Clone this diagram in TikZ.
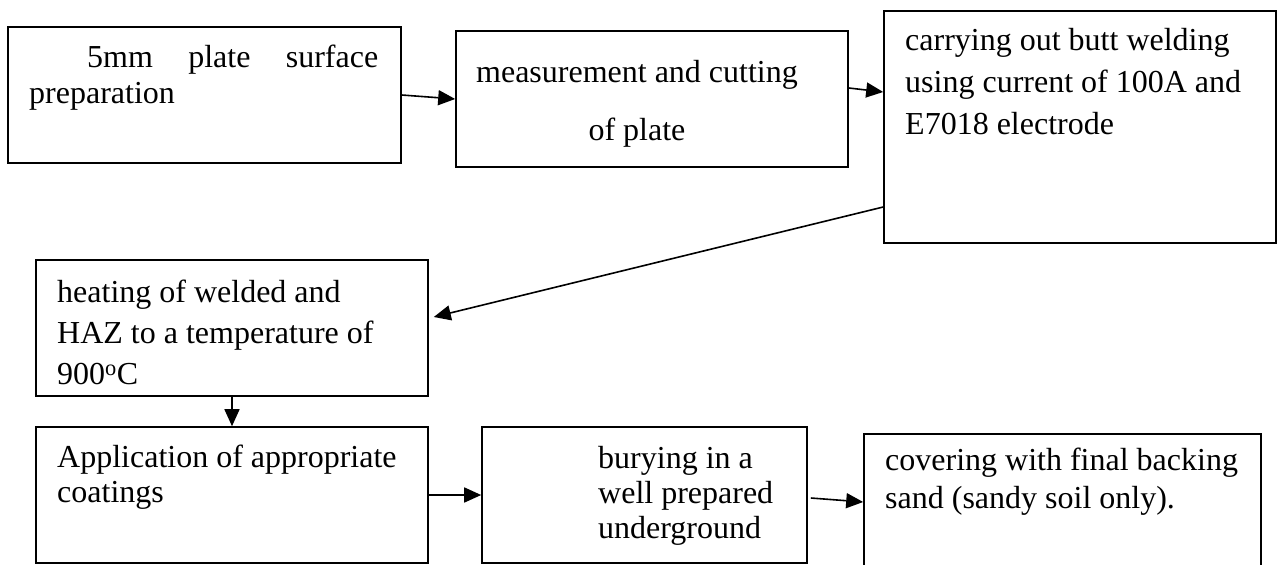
\documentclass[tikz,border=0pt]{standalone}
\usepackage{fontspec}
\setmainfont{Liberation Serif}
\usetikzlibrary{arrows.meta}
\tikzset{
	stage/.style={draw, line width=1.6pt, inner sep=0pt},
	stagetext/.style={inner sep=0pt, anchor=north west, align=left},
	flow/.style={line width=1.6pt, -{Triangle[length=17pt,width=15pt]}}
}

\begin{document}
\begin{tikzpicture}[x=1pt,y=-1pt]
		\useasboundingbox (0,0) rectangle (1278,565);
		\clip (0,0) rectangle (1278,565);
		%%  Boxes  %%%%%%%%
		\node[stage, minimum width=393pt, minimum height=136pt] (prep) at (204.5,95) {};
		\node[stage, minimum width=392pt, minimum height=136pt] (cut) at (652,99) {};
		\node[stage, minimum width=392pt, minimum height=232pt] (weld) at (1080,127) {};
		\node[stage, minimum width=392pt, minimum height=136pt] (heat) at (232,328) {};
		\node[stage, minimum width=392pt, minimum height=136pt] (coat) at (232,495) {};
		\node[stage, minimum width=325pt, minimum height=136pt] (bury) at (644.5,495) {};
		\node[stage, minimum width=397pt, minimum height=137pt] (cover) at (1062.5,502.5) {};
		%%  Texts  %%%%%%%%
		\node[stagetext, text width=349pt, font=\fontsize{32}{36}\selectfont] (prep-t) at (29,45)
			{\hspace*{58pt}5mm\hfill plate\hfill surface\\preparation};
		\node[inner sep=0pt, anchor=north, align=center, font=\fontsize{32}{58}\selectfont] (cut-t) at (637,60)
			{measurement and cutting\\of plate};
		\node[stagetext, font=\fontsize{32}{42}\selectfont] (weld-t) at (905,28)
			{carrying out butt welding\\using current of 100A and\\E7018 electrode};
		\node[stagetext, font=\fontsize{32}{41}\selectfont] (heat-t) at (57,280)
			{heating of welded and\\HAZ to a temperature of\\900\textsuperscript{o}C};
		\node[stagetext, font=\fontsize{32}{35}\selectfont] (coat-t) at (57,445)
			{Application of appropriate\\coatings};
		\node[stagetext, font=\fontsize{32}{35}\selectfont] (bury-t) at (598,446)
			{burying in a\\well prepared\\underground};
		\node[stagetext, font=\fontsize{32}{38}\selectfont] (cover-t) at (885,448)
			{covering with final backing\\sand (sandy soil only).};
		%%  Arrows  %%%%%%%%
		\draw[flow] (prep.east) -- (cut.west);
		\draw[flow] ([yshift=11pt]cut.east) -- ([yshift=35pt]weld.west);
		\draw[flow] ([yshift=-80pt]weld.west) -- ([xshift=5pt,yshift=11pt]heat.east);
		\draw[flow] (heat.south) -- (coat.north);
		\draw[flow] (coat.east) -- (bury.west);
		\draw[flow] ([xshift=3pt,yshift=-3pt]bury.east) -- ([yshift=0.5pt]cover.west);
		%%%%%%%%%%%%%%%
\end{tikzpicture}
\end{document}
